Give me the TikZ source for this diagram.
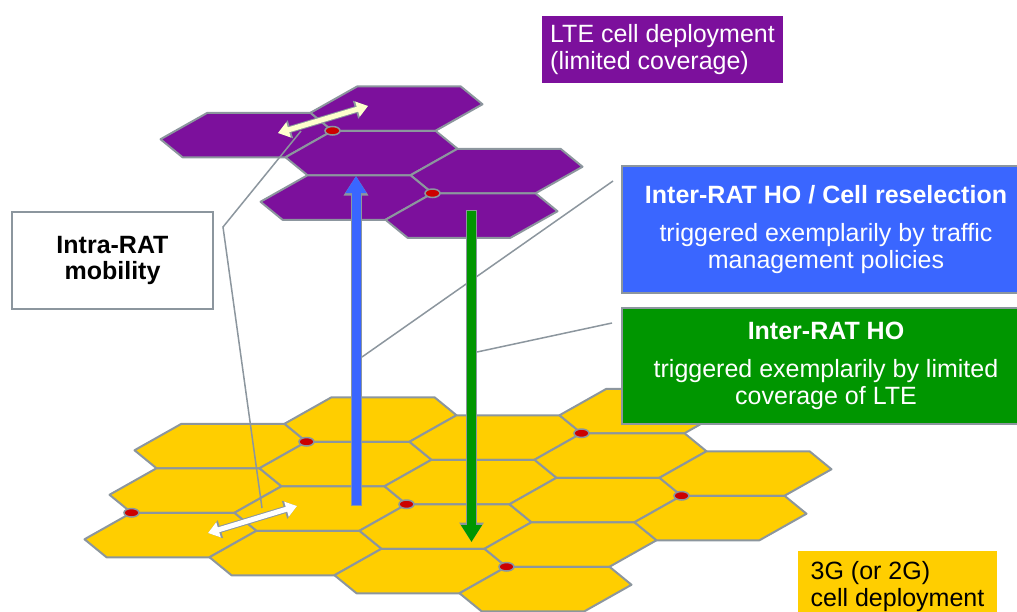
\documentclass[tikz,border=0pt]{standalone}
\usepackage{fontspec}
\setmainfont{Liberation Sans}
\usetikzlibrary{arrows.meta,shapes.geometric}

\definecolor{ltepurple}{RGB}{124,16,156}
\definecolor{umtsyellow}{RGB}{255,206,0}
\definecolor{edge}{RGB}{140,150,158}
\definecolor{dotred}{RGB}{204,0,0}
\definecolor{hoblue}{RGB}{58,102,255}
\definecolor{hogreen}{RGB}{0,150,0}
\definecolor{palelte}{RGB}{255,255,205}

\tikzset{
  cell/.pic={\path[pic actions] (64,-22.25) -- (-39,-22.25) -- (-86,4.25)
    -- (-64,22.25) -- (39,22.25) -- (86,-4.25) -- cycle;},
  ltecell/.style={fill=ltepurple, draw=edge, line width=2pt, line join=round},
  umtscell/.style={fill=umtsyellow, draw=edge, line width=2pt, line join=round},
  enb/.style={ellipse, fill=dotred, draw=edge, line width=1.5pt,
    minimum width=15pt, minimum height=8.5pt, inner sep=0pt},
  txt/.style={font=\fontsize{25}{27}\selectfont, inner sep=0pt},
  infobox/.style={txt, draw=edge, line width=2pt, align=center},
  callout/.style={draw=edge, line width=1.5pt},
  hoarrow/.style={line width=9pt, -{Triangle[length=17pt,width=20pt]},
    preaction={draw=edge, line width=11pt, -{Triangle[length=19.5pt,width=23.5pt]},
      shorten <=-1pt}},
  swaparrow/.style={line width=5pt,
    {Triangle[length=11pt,width=15pt]}-{Triangle[length=11pt,width=15pt]},
    preaction={draw=edge, line width=7pt,
      {Triangle[length=13pt,width=18pt]}-{Triangle[length=13pt,width=18pt]}}},
}

\begin{document}
\begin{tikzpicture}[x=1pt, y=-1pt]
  \useasboundingbox (0,0) rectangle (1017,611);
  \clip (0,0) rectangle (1017,611);

  % 3G layer, cell (0,0) sits at (220.5,446)
  \foreach \i/\j in {0/0,0/-1,0/-2,1/1,1/0,1/-1,1/-2,2/1,2/0,2/-1,2/-2,
                     3/2,3/1,3/0,3/-1,3/-2,4/1,4/0}
    \pic[umtscell] at ({220.5+125*\i+25*(\j)},{446+18*\i-44.5*(\j)}) {cell};
  \foreach \i/\j in {1/0,0/-2,2/-1,3/1,4/0,3/-2}
    \node[enb] (ydot\i\j) at ({181.5+125*\i+25*(\j)},{423.75+18*\i-44.5*(\j)}) {};

  \coordinate (umtsswapa) at (208,533);
  \coordinate (umtsswapb) at (297,506);
  \draw[swaparrow, white] (umtsswapa) -- (umtsswapb);

  % LTE layer, cell (0,0) sits at (246.5,135)
  \foreach \i/\j in {0/0,1/1,1/0,2/0,1/-1,2/-1}
    \pic[ltecell] at ({246.5+125*\i+25*(\j)},{135+18*\i-44.5*(\j)}) {cell};
  \foreach \i/\j in {1/0,2/-1}
    \node[enb] (pdot\i\j) at ({207.5+125*\i+25*(\j)},{112.75+18*\i-44.5*(\j)}) {};

  \coordinate (lteswapa) at (278,133);
  \coordinate (lteswapb) at (368,106);
  \draw[swaparrow, palelte] (lteswapa) -- (lteswapb);

  % callouts
  \coordinate (lteswapend) at (301,131);
  \coordinate (intrabend) at (223,227);
  \coordinate (umtsswapend) at (262,508);
  \draw[callout] (lteswapend) -- (intrabend) -- (umtsswapend);
  \coordinate (ho1end) at (362,357);
  \coordinate (trafficend) at (613,181);
  \draw[callout] (ho1end) -- (trafficend);
  \coordinate (ho2end) at (477,352);
  \coordinate (coverageend) at (612,323);
  \draw[callout] (ho2end) -- (coverageend);

  % handover arrows
  \coordinate (ho1foot) at (356,505);
  \coordinate (ho1tip) at (356,176);
  \draw[hoarrow, hoblue] (ho1foot) -- (ho1tip);
  \coordinate (ho2top) at (471.5,211);
  \coordinate (ho2tip) at (471.5,542);
  \draw[hoarrow, hogreen] (ho2top) -- (ho2tip);

  % text boxes
  \node[txt, fill=ltepurple, text=white, align=left, minimum width=241pt,
    minimum height=67pt] (ltelayer) at (662.5,49.5)
    {LTE cell deployment\\(limited coverage)};
  \node[infobox, fill=white, font=\fontsize{25}{26}\selectfont\bfseries,
    minimum width=201pt, minimum height=97pt] (intra) at (112.5,260.5)
    {Intra-RAT\\mobility};
  \node[infobox, fill=hoblue, text=white, minimum width=408pt,
    minimum height=127pt] (traffic) at (826,229.5)
    {{\bfseries Inter-RAT HO / Cell reselection}\\[11pt]
     triggered exemplarily by traffic\\management policies};
  \node[infobox, fill=hogreen, text=white, minimum width=408pt,
    minimum height=116pt] (coverage) at (826,366)
    {{\bfseries Inter-RAT HO}\\[11pt]
     triggered exemplarily by limited\\coverage of LTE};
  \node[txt, fill=umtsyellow, align=left, minimum width=199pt,
    minimum height=72pt] (umtslayer) at (897.5,587)
    {3G (or 2G)\\cell deployment};
\end{tikzpicture}
\end{document}
